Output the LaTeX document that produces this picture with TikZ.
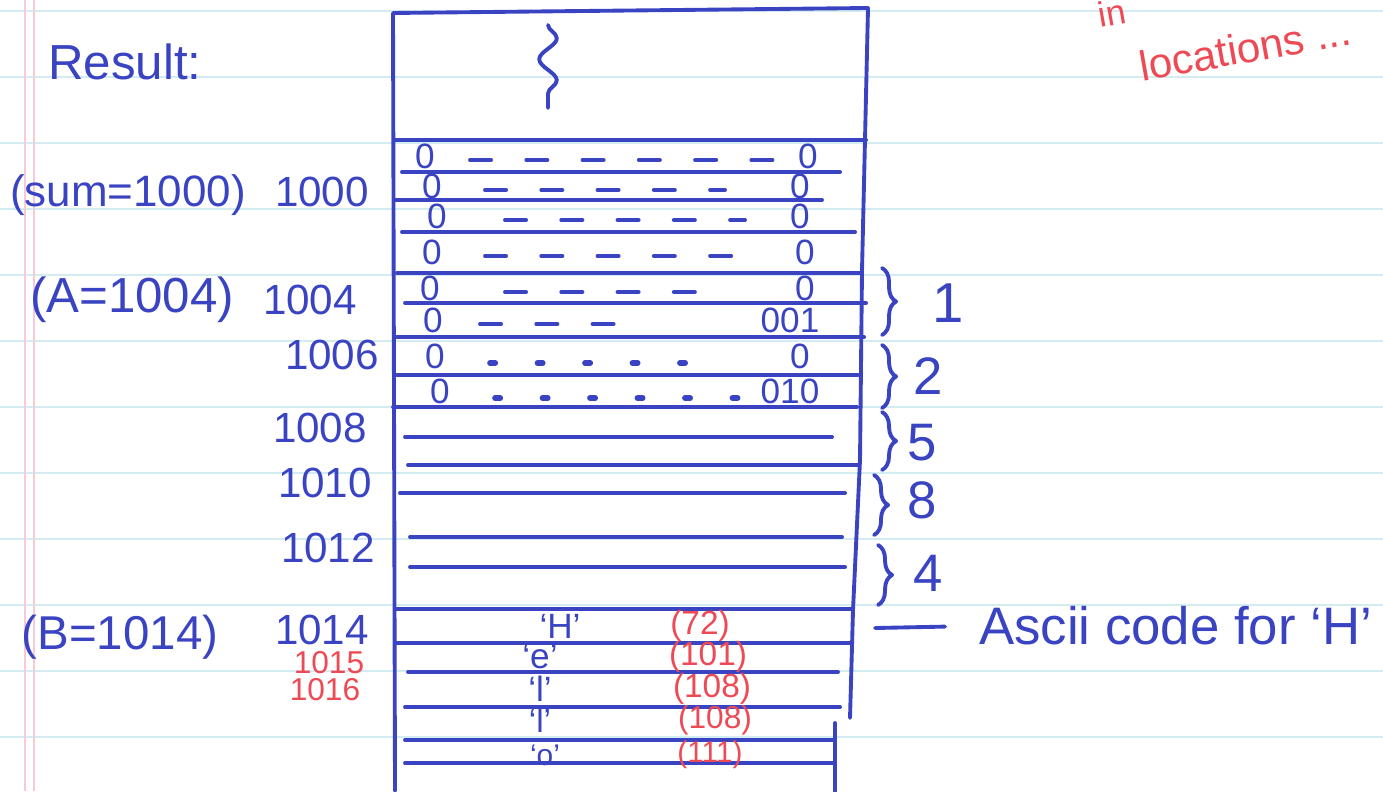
\documentclass[tikz,border=0pt]{standalone}
\usepackage{fontspec}
\setmainfont{Liberation Sans}
\usetikzlibrary{decorations.pathmorphing, decorations.pathreplacing}
\definecolor{penblue}{HTML}{3A44C2}
\definecolor{penred}{HTML}{EE4A55}
\definecolor{ruleblue}{HTML}{D3ECF1}
\definecolor{marginpink}{HTML}{F5CBD5}

\begin{document}
\begin{tikzpicture}[x=0.01cm, y=-0.01cm, font=\fontsize{12}{14}\selectfont,
    pen/.style={draw=penblue, line width=1.1pt, line cap=round, line join=round},
    ink/.style={text=penblue, inner sep=1pt},
    bit/.style={text=penblue, inner sep=0.5pt, font=\fontsize{10}{12}\selectfont},
    redink/.style={text=penred, inner sep=0.5pt, font=\fontsize{9.5}{11}\selectfont},
    dashrow/.style={pen, dash pattern=on 6pt off 10pt},
    dotrow/.style={pen, line width=1.6pt, dash pattern=on 1.5pt off 12pt},
    curly/.style={pen, decorate, decoration={brace, amplitude=4pt}},
    paperrule/.style={draw=ruleblue, line width=0.8pt},
    margin/.style={draw=marginpink, line width=0.6pt}]
  \useasboundingbox[fill=white] (0,0) rectangle (1383,791);

  % lined paper
  \foreach \y in {11,77,...,780}
    \draw[paperrule] (0,\y) -- (1383,\y);
  \draw[margin] (25,0) -- (25,791);
  \draw[margin] (34,0) -- (34,791);

  % memory column
  \draw[pen] (395,791) -- (393,13) -- (868,8) -- (862,270) -- (860,460) -- (853,610) -- (850,718);
  \draw[pen] (835,723) -- (835,791);
  \draw[pen, decorate, decoration={snake, amplitude=2.5pt, segment length=12pt}] (548,25) -- (548,108);
  \foreach \y/\a/\b in {140/395/866, 172/402/840, 200/395/822, 232/402/855, 273/397/862,
      303/405/866, 337/397/864, 375/397/858, 407/393/857, 437/405/832, 465/408/858,
      493/400/845, 537/410/842, 567/410/845, 609/396/853, 643/395/850, 672/408/838,
      707/405/840, 740/405/835, 763/405/833}
    \draw[pen] (\a,\y) -- (\b,\y);

  % bits
  \foreach \y/\l/\r/\a/\b/\v in {156/425/808/470/775/0, 186/432/800/485/725/0,
      216/437/800/505/745/0, 252/432/805/485/735/0, 288/430/805/505/725/0,
      320/433/790/480/620/001}
  {
    \node[bit] (lo\y) at (\l,\y) {0};
    \node[bit] (hi\y) at (\r,\y) {\v};
    \draw[dashrow] (\a,\y+4) -- (\b,\y+4);
  }
  \foreach \y/\l/\r/\a/\b/\v in {356/435/800/490/715/0, 391/440/790/495/745/010}
  {
    \node[bit] (lo\y) at (\l,\y) {0};
    \node[bit] (hi\y) at (\r,\y) {\v};
    \draw[dotrow] (\a,\y+7) -- (\b,\y+7);
  }

  % characters
  \node[bit] (chH) at (560,626) {`H'};
  \node[bit] (che) at (540,657) {`e'};
  \node[bit] (chl) at (540,689) {`l'};
  \node[bit, font=\fontsize{9.5}{11}\selectfont] (chll) at (540,720) {`l'};
  \node[bit, font=\fontsize{8.5}{10}\selectfont] (cho) at (545,755) {`o'};
  \node[redink] (code72) at (700,626) {(72)};
  \node[redink] (code101) at (708,657) {(101)};
  \node[redink] (code108) at (712,689) {(108)};
  \node[redink, font=\fontsize{9}{10}\selectfont] (code108b) at (715,720) {(108)};
  \node[redink, font=\fontsize{8.5}{10}\selectfont] (code111) at (710,755) {(111)};

  % addresses
  \node[ink, font=\fontsize{14}{16}\selectfont] (result) at (125,62) {Result:};
  \node[ink, font=\fontsize{12.5}{15}\selectfont] (sumlbl) at (128,195) {(sum=1000)};
  \node[ink] (a1000) at (322,192) {1000};
  \node[ink, font=\fontsize{14}{16}\selectfont] (albl) at (132,300) {(A=1004)};
  \node[ink] (a1004) at (310,300) {1004};
  \node[ink] (a1006) at (332,355) {1006};
  \node[ink] (a1008) at (320,428) {1008};
  \node[ink] (a1010) at (325,483) {1010};
  \node[ink] (a1012) at (328,548) {1012};
  \node[ink, font=\fontsize{13.5}{16}\selectfont] (blbl) at (120,637) {(B=1014)};
  \node[ink] (a1014) at (322,630) {1014};
  \node[redink, font=\fontsize{9}{10}\selectfont] (a1015) at (329,663) {1015};
  \node[redink, font=\fontsize{9}{10}\selectfont] (a1016) at (325,690) {1016};

  % sizes
  \draw[curly] (882,268) -- (882,335);
  \draw[curly] (882,345) -- (882,408);
  \draw[curly] (882,412) -- (882,470);
  \draw[curly] (874,475) -- (874,535);
  \draw[curly] (878,545) -- (878,605);
  \node[ink, font=\fontsize{16}{18}\selectfont] (n1) at (948,303) {1};
  \node[ink, font=\fontsize{15}{17}\selectfont] (n2) at (928,376) {2};
  \node[ink, font=\fontsize{15}{17}\selectfont] (n5) at (922,443) {5};
  \node[ink, font=\fontsize{15}{17}\selectfont] (n8) at (922,500) {8};
  \node[ink, font=\fontsize{15}{17}\selectfont] (n4) at (928,573) {4};

  % annotation
  \coordinate (hcell) at (875,628);
  \node[ink, anchor=west, font=\fontsize{15}{17}\selectfont] (ascii) at (975,626) {Ascii code for `H'};
  \draw[pen] (hcell) -- (ascii.west) [shorten >=3mm];
  \node[text=penred, inner sep=0pt, rotate=10, font=\fontsize{10}{12}\selectfont] (inlbl) at (1112,13) {in};
  \node[text=penred, rotate=10, font=\fontsize{12}{14}\selectfont] (loclbl) at (1245,48) {locations ...};
\end{tikzpicture}
\end{document}
